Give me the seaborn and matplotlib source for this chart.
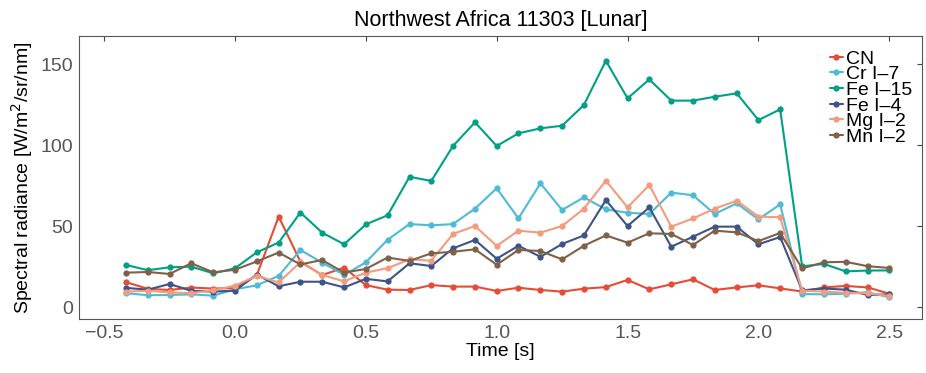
import matplotlib
matplotlib.use("Agg")
import matplotlib.pyplot as plt
import pandas as pd
import seaborn as sns

# time axis (s), one frame every 1/12 s
time_s = [-0.417, -0.333, -0.250, -0.167, -0.083, 0.000, 0.083, 0.167, 0.250,
          0.333, 0.417, 0.500, 0.583, 0.667, 0.750, 0.833, 0.917, 1.000,
          1.083, 1.167, 1.250, 1.333, 1.417, 1.500, 1.583, 1.667, 1.750,
          1.833, 1.917, 2.000, 2.083, 2.167, 2.250, 2.333, 2.417, 2.500]

cn = [15.4, 11.2, 10.5, 12.0, 11.4, 11.7, 19.5, 55.8, 28.0, 19.7, 24.3, 13.5,
      10.7, 10.5, 13.5, 12.6, 12.6, 9.9, 11.9, 10.5, 9.5, 11.3, 12.3, 16.7,
      10.9, 14.0, 17.1, 10.5, 12.1, 13.4, 11.5, 9.5, 12.1, 13.0, 12.1, 8.2]
cr_7 = [8.5, 7.3, 7.4, 7.8, 7.0, 10.9, 13.4, 19.2, 35.2, 27.4, 19.8, 27.6,
        41.5, 51.2, 50.4, 51.2, 60.7, 73.3, 54.7, 76.3, 59.9, 67.7, 60.3, 58.2,
        57.4, 70.6, 69.0, 57.4, 64.0, 54.1, 63.4, 8.0, 7.8, 8.2, 9.1, 6.0]
fe_15 = [26.0, 22.7, 24.5, 24.9, 20.8, 23.9, 33.7, 39.8, 58.3, 45.9, 38.7, 51.0,
         56.6, 80.4, 77.8, 99.4, 114.0, 99.4, 107.2, 110.3, 111.9, 124.7, 152.0, 128.8,
         140.5, 127.4, 127.4, 129.8, 131.9, 115.4, 122.0, 25.1, 26.6, 22.0, 22.5, 22.6]
fe_4 = [11.8, 10.7, 14.2, 10.0, 9.5, 10.1, 20.0, 12.8, 15.6, 15.6, 12.1, 17.4,
        15.8, 27.0, 25.3, 36.2, 41.4, 29.8, 37.8, 31.0, 38.9, 44.2, 66.0, 50.0,
        61.5, 37.2, 43.4, 49.6, 49.6, 38.7, 43.2, 10.3, 11.4, 10.7, 7.4, 7.8]
mg_2 = [9.5, 10.0, 9.0, 8.6, 10.3, 13.2, 19.2, 15.2, 27.6, 19.8, 15.8, 21.2,
        24.0, 29.4, 28.6, 45.1, 50.0, 37.7, 47.1, 45.9, 50.0, 60.7, 78.0, 61.5,
        75.3, 49.6, 54.7, 60.7, 65.6, 55.8, 55.4, 10.1, 9.5, 8.8, 8.4, 6.8]
mn_2 = [21.2, 21.6, 20.4, 27.0, 21.4, 23.0, 28.1, 33.6, 26.3, 29.0, 21.2, 23.5,
        30.5, 28.5, 33.1, 34.1, 35.6, 26.1, 35.2, 34.6, 29.4, 37.8, 44.2, 39.7,
        45.5, 45.1, 38.3, 47.1, 46.1, 40.7, 45.7, 23.8, 27.6, 27.9, 25.2, 24.1]

names = ["CN", "Cr I\u20137", "Fe I\u201315", "Fe I\u20134", "Mg I\u20132", "Mn I\u20132"]
colors = ["#E64B35", "#4DBBD5", "#00A087", "#3C5488", "#F39B7F", "#7E6148"]
series = [cn, cr_7, fe_15, fe_4, mg_2, mn_2]

rows = []
for name, vals in zip(names, series):
    for t, v in zip(time_s, vals):
        rows.append({"Time": t, "Radiance": v, "Line": name})
df = pd.DataFrame(rows)

sns.set_style("white")
plt.rcParams["font.family"] = ["Liberation Sans", "DejaVu Sans"]
plt.rcParams["text.color"] = "black"
plt.rcParams["axes.labelcolor"] = "black"

fig = plt.figure(figsize=(9.26, 3.73), dpi=100)
ax = fig.add_axes([0.0853, 0.1448, 0.9104, 0.7587])

sns.lineplot(data=df, x="Time", y="Radiance", hue="Line", hue_order=names,
             palette=colors, marker="o", markersize=4.5, markeredgewidth=0,
             linewidth=1.5, ax=ax)

ax.set_xlim(-0.596, 2.625)
ax.set_ylim(-7.4, 167.3)
ax.set_xticks([-0.5, 0.0, 0.5, 1.0, 1.5, 2.0, 2.5])
ax.set_xticklabels(["\u22120.5", "0.0", "0.5", "1.0", "1.5", "2.0", "2.5"])
ax.set_yticks([0, 50, 100, 150])

ax.tick_params(direction="in", length=3.5, width=0.8, colors="#444444",
               labelcolor="#555555", labelsize=14, top=True, right=True,
               pad=4)
for s in ax.spines.values():
    s.set_color("#555555")
    s.set_linewidth(0.8)

ax.set_xlabel("Time [s]", fontsize=14, labelpad=1)
ax.set_ylabel("Spectral radiance [W/m$^2$/sr/nm]", fontsize=14, labelpad=4)
ax.set_title("Northwest Africa 11303 [Lunar]", fontsize=15.5, pad=7)

ax.legend(loc="upper right", frameon=False, fontsize=14, handlelength=0.7,
          handletextpad=0.15, labelspacing=-0.1, borderaxespad=0.1,
          bbox_to_anchor=(1.0, 0.985), labelcolor="black")

fig.savefig("out.png", dpi=100)
